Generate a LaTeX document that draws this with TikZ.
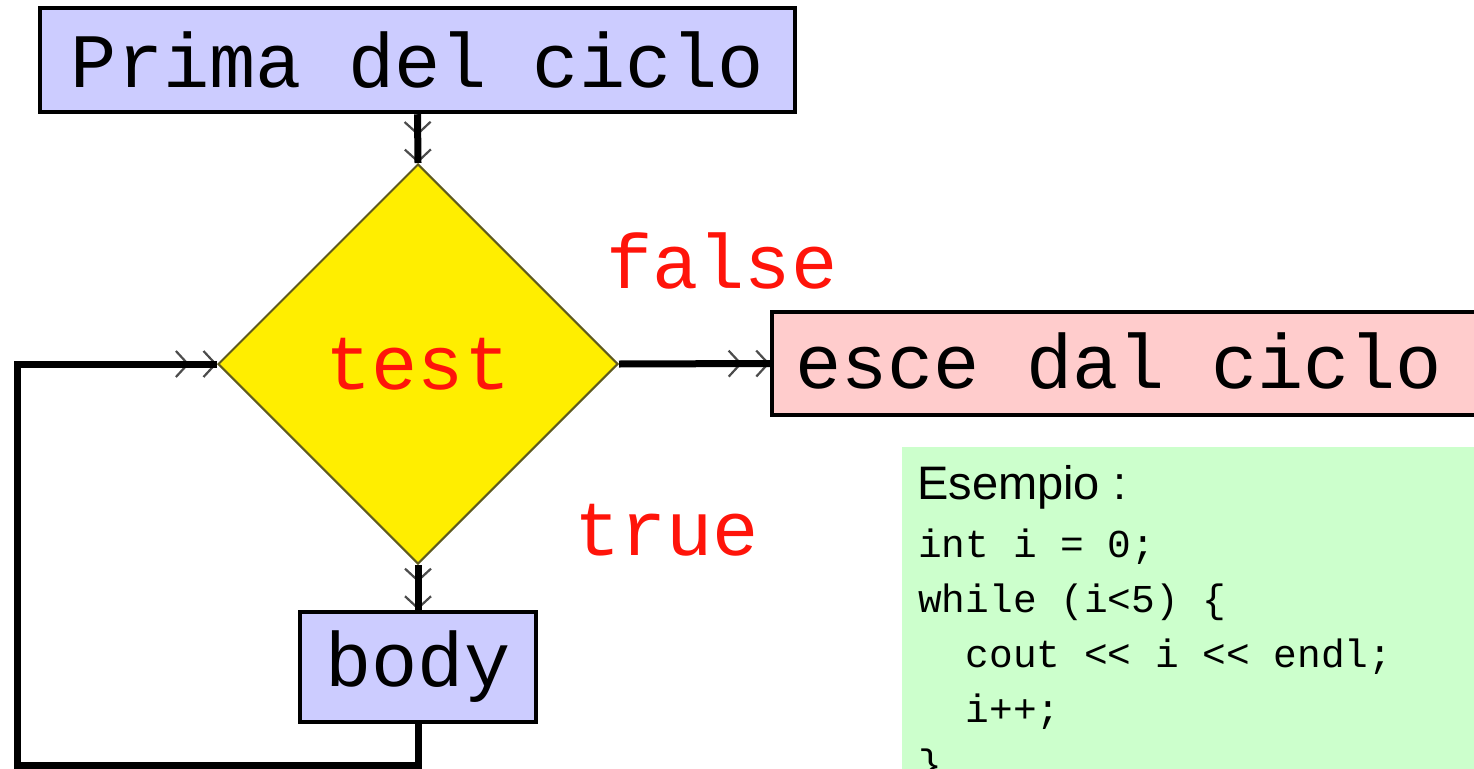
\documentclass[tikz,border=0pt]{standalone}
\usepackage{fontspec}
\setmainfont{Liberation Sans}
\setmonofont{Liberation Mono}
\usetikzlibrary{shapes.geometric,arrows.meta}
\definecolor{lilac}{RGB}{204,204,255}
\definecolor{rose}{RGB}{255,204,204}
\definecolor{mint}{RGB}{204,255,204}
\definecolor{testyellow}{RGB}{255,238,0}
\definecolor{testedge}{RGB}{95,90,30}
\definecolor{labelred}{RGB}{255,20,10}
\begin{document}
\begin{tikzpicture}[x=1pt,y=-1pt,
  bigtext/.style={font=\fontsize{77}{77}\selectfont\ttfamily},
  box/.style={draw=black, line width=4.5pt, rectangle, inner sep=0pt, bigtext},
  wire/.style={draw=black, line width=7pt, line join=miter},
  barbs/.style={draw=black!70, line width=2.2pt,
    -{Straight Barb[length=12pt,width=26pt,sep=13pt]Straight Barb[length=12pt,width=26pt]}},
  branch/.style={bigtext, text=labelred, inner sep=0pt, anchor=base west},
  code/.style={font=\fontsize{39.5}{39.5}\selectfont\ttfamily, inner sep=0pt, anchor=base west}]
\useasboundingbox (0,0) rectangle (1474,768);
\clip (0,0) rectangle (1474,768);
\fill[white] (0,0) rectangle (1474,768);

% flowchart blocks
\node[box, fill=lilac, minimum width=755pt, minimum height=104pt] (prima) at (417.5,60) {Prima del ciclo};
\node[diamond, aspect=1, draw=testedge, line width=2pt, fill=testyellow,
      minimum width=400pt, minimum height=400pt, inner sep=0pt, bigtext, text=labelred] (test) at (418,364) {test};
\node[box, fill=rose, minimum width=760pt, minimum height=103pt] (esce) at (1152,363.5) {};
\node[bigtext, inner sep=0pt, anchor=base west] (escetext) at (795,388) {esce dal ciclo};
\node[box, fill=lilac, minimum width=236pt, minimum height=110pt] (body) at (418,667) {body};

% branch labels
\node[branch] (lfalse) at (606,288) {false};
\node[branch] (ltrue) at (574,555) {true};

% loop-back corners
\coordinate (c1) at (418,765);
\coordinate (c2) at (17,765);
\coordinate (c3) at (17,364);

% arrow tips first, lines on top
\draw[barbs] (prima.south) -- (test.north);
\draw[barbs] (test.east) -- (esce.west);
\draw[barbs] (test.south) -- (body.north);
\draw[barbs] (c3) -- (test.west);

\draw[wire] (prima.south) -- (test.north);
\draw[wire] (test.east) -- (esce.west);
\draw[wire] (test.south) -- (body.north);
\draw[wire] (body.south) -- (c1) -- (c2) -- (c3) -- (test.west);

% example panel
\node[fill=mint, anchor=north west, minimum width=600pt, minimum height=360pt, inner sep=0pt] (panel) at (902,447) {};
\node[font=\fontsize{47}{47}\selectfont, inner sep=0pt, anchor=base west] (ttl) at (917,499) {Esempio :};
\node[code] (l1) at (918,557) {int i = 0;};
\node[code] (l2) at (918,612) {while (i<5) \{};
\node[code] (l3) at (918,667) {\ \ cout << i << endl;};
\node[code] (l4) at (918,722) {\ \ i++;};
\node[code] (l5) at (918,777) {\}};
\end{tikzpicture}
\end{document}
